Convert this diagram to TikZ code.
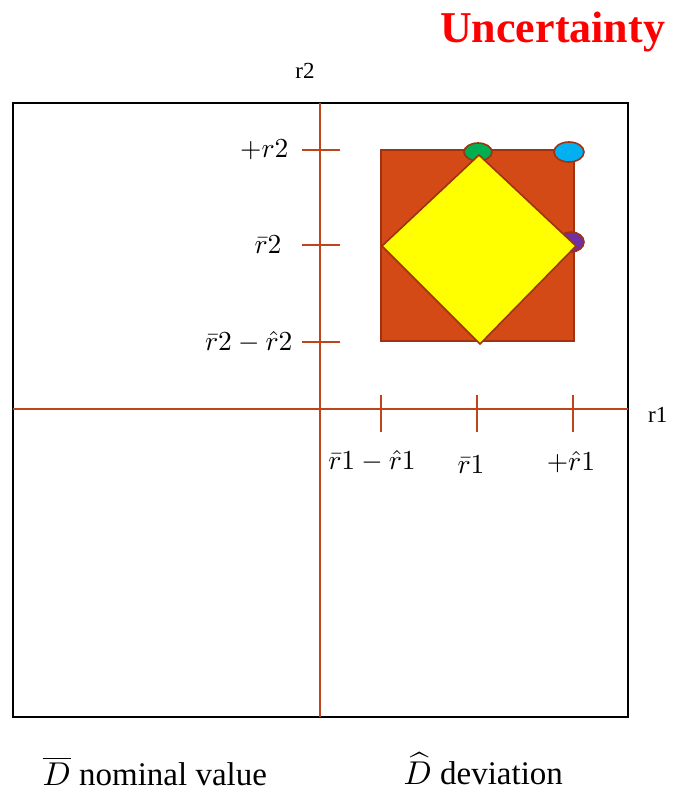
\RequirePackage{fix-cm}
\documentclass[tikz,border=0pt]{standalone}
\usepackage{fontspec}
\setmainfont{Liberation Serif}
\usepackage{tikz}
\usetikzlibrary{positioning,calc}
\definecolor{AxisRust}{HTML}{C0441A}
\definecolor{BoxRust}{HTML}{D34A17}
\definecolor{EdgeRust}{HTML}{A03212}
\definecolor{Lemon}{HTML}{FFFF00}
\definecolor{Leaf}{HTML}{00B050}
\definecolor{Sky}{HTML}{00B0F0}
\definecolor{Plum}{HTML}{7030A0}
\definecolor{TitleRed}{HTML}{FF0000}
\tikzset{
  frame/.style={draw=black,line width=2.2pt},
  axisline/.style={draw=AxisRust,line width=1.4pt},
  tickmark/.style={draw=AxisRust,line width=1.4pt},
  ticklabel/.style={font=\normalsize,scale=2.75,inner sep=0pt},
  axislabel/.style={font=\fontsize{23}{27}\selectfont,inner sep=0pt},
  boxfill/.style={fill=BoxRust,draw=EdgeRust,line width=1.6pt},
  diamondfill/.style={fill=Lemon,draw=EdgeRust,line width=1.6pt,line join=miter},
  cornerdot/.style={draw=EdgeRust,line width=1.6pt},
  caption/.style={font=\normalsize,scale=3.3,inner sep=0pt}
}
\begin{document}
\begin{tikzpicture}[x=1pt,y=-1pt]
  \useasboundingbox (0,0) rectangle (676,792);
  % frame and axes
  \draw[frame] (13,103) rectangle (628,717);
  \coordinate (ytop) at (320,103);
  \coordinate (ybot) at (320,717);
  \coordinate (xleft) at (13,409);
  \coordinate (xright) at (628,409);
  \draw[axisline] (ytop) -- (ybot);
  \draw[axisline] (xleft) -- (xright);
  \node[axislabel] (rtwo) at (305,71) {r2};
  \node[axislabel,anchor=west] (rone) at (648,415) {r1};
  % ticks on r2
  \foreach \yy in {150,245,342}
    \draw[tickmark] (302,\yy) -- (340,\yy);
  \node[ticklabel,anchor=east] (tophi) at (289,150) {$+r2$};
  \node[ticklabel,anchor=east] (tmid) at (282,245) {$\bar{r}2$};
  \node[ticklabel,anchor=east] (tlow) at (293,342) {$\bar{r}2-\hat{r}2$};
  % ticks on r1
  \foreach \xx in {381,477,573}
    \draw[tickmark] (\xx,395) -- (\xx,432);
  \node[ticklabel] (slow) at (372,461) {$\bar{r}1-\hat{r}1$};
  \node[ticklabel] (smid) at (471,465) {$\bar{r}1$};
  \node[ticklabel] (shi) at (571,462) {$+\hat{r}1$};
  % uncertainty box
  \draw[boxfill] (381,150) rectangle (574,341);
  \draw[cornerdot,fill=Leaf] (478,152) ellipse [x radius=14,y radius=9];
  \draw[cornerdot,fill=Sky] (569,152) ellipse [x radius=15,y radius=10];
  \draw[cornerdot,fill=Plum] (571,242) ellipse [x radius=13,y radius=10];
  \draw[diamondfill] (479,155) -- (576,246) -- (480,344) -- (382,246) -- cycle;
  % texts
  \node[font=\fontsize{44}{48}\selectfont\bfseries,text=TitleRed,anchor=west,inner sep=0pt] (title) at (440,32) {Uncertainty};
  \node[caption,anchor=west] (nominal) at (42,771) {$\overline{D}$ nominal value};
  \node[caption,anchor=west] (deviation) at (403,769) {$\widehat{D}$ deviation};
\end{tikzpicture}
\end{document}
